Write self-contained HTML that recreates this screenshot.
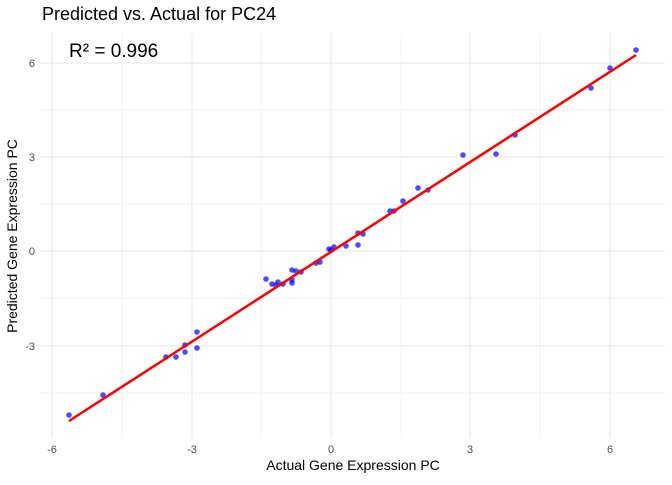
<!DOCTYPE html>
<html><head><style>body{margin:0;background:#fff}</style></head><body>
<svg width="672" height="480" xmlns="http://www.w3.org/2000/svg" font-family="Liberation Sans, sans-serif">
<rect width="672" height="480" fill="#fff"/>
<g stroke="#f0f0f0" stroke-width="1">
<line x1="122" y1="33" x2="122" y2="438"/><line x1="261" y1="33" x2="261" y2="438"/><line x1="401" y1="33" x2="401" y2="438"/><line x1="540" y1="33" x2="540" y2="438"/>
<line x1="40" y1="393" x2="665" y2="393"/><line x1="40" y1="298" x2="665" y2="298"/><line x1="40" y1="204" x2="665" y2="204"/><line x1="40" y1="110" x2="665" y2="110"/>
</g>
<g stroke="#e6e6e6" stroke-width="1.1">
<line x1="52" y1="33" x2="52" y2="438"/><line x1="192" y1="33" x2="192" y2="438"/><line x1="331" y1="33" x2="331" y2="438"/><line x1="470" y1="33" x2="470" y2="438"/><line x1="610" y1="33" x2="610" y2="438"/>
<line x1="40" y1="346" x2="665" y2="346"/><line x1="40" y1="251" x2="665" y2="251"/><line x1="40" y1="157" x2="665" y2="157"/><line x1="40" y1="63" x2="665" y2="63"/>
</g>
<g fill="#0000ff" fill-opacity="0.7">
<circle cx="69" cy="415" r="2.8"/><circle cx="103" cy="395" r="2.8"/><circle cx="166" cy="357" r="2.8"/><circle cx="176" cy="357" r="2.8"/><circle cx="185" cy="352" r="2.8"/><circle cx="185" cy="345" r="2.8"/><circle cx="197" cy="348" r="2.8"/><circle cx="197" cy="332" r="2.8"/><circle cx="266" cy="279" r="2.8"/><circle cx="272" cy="284" r="2.8"/><circle cx="276" cy="285" r="2.8"/><circle cx="278" cy="282" r="2.8"/><circle cx="283" cy="284" r="2.8"/><circle cx="292" cy="283" r="2.8"/><circle cx="292" cy="280" r="2.8"/><circle cx="292" cy="270" r="2.8"/><circle cx="296" cy="271" r="2.8"/><circle cx="301" cy="272" r="2.8"/><circle cx="316" cy="263" r="2.8"/><circle cx="320" cy="262" r="2.8"/><circle cx="329" cy="249" r="2.8"/><circle cx="331" cy="250" r="2.8"/><circle cx="334" cy="247" r="2.8"/><circle cx="346" cy="246" r="2.8"/><circle cx="358" cy="245" r="2.8"/><circle cx="358" cy="233" r="2.8"/><circle cx="363" cy="234" r="2.8"/><circle cx="390" cy="211" r="2.8"/><circle cx="394" cy="211" r="2.8"/><circle cx="403" cy="201" r="2.8"/><circle cx="418" cy="188" r="2.8"/><circle cx="428" cy="190" r="2.8"/><circle cx="463" cy="155" r="2.8"/><circle cx="496" cy="154" r="2.8"/><circle cx="515" cy="135" r="2.8"/><circle cx="591" cy="88" r="2.8"/><circle cx="610" cy="68" r="2.8"/><circle cx="636" cy="50" r="2.8"/>
</g>
<line x1="69" y1="421" x2="636" y2="55" stroke="#ff0000" stroke-width="2.5"/>
<g fill="#4d4d4d" font-size="11" text-anchor="middle">
<text x="52" y="453">-6</text><text x="192" y="453">-3</text><text x="331" y="453">0</text><text x="470" y="453">3</text><text x="610" y="453">6</text>
</g>
<g fill="#4d4d4d" font-size="11" text-anchor="end">
<text x="35" y="350">-3</text><text x="35" y="255">0</text><text x="35" y="161">3</text><text x="35" y="67">6</text>
</g>
<text x="353" y="470" font-size="14" text-anchor="middle" fill="#000">Actual Gene Expression PC</text>
<text transform="translate(17,236) rotate(-90)" font-size="14" text-anchor="middle" fill="#000">Predicted Gene Expression PC</text>
<text x="42" y="20" font-size="18" fill="#000">Predicted vs. Actual for PC24</text>
<text x="69" y="57" font-size="19" fill="#000">R² = 0.996</text>
</svg>
</body></html>
